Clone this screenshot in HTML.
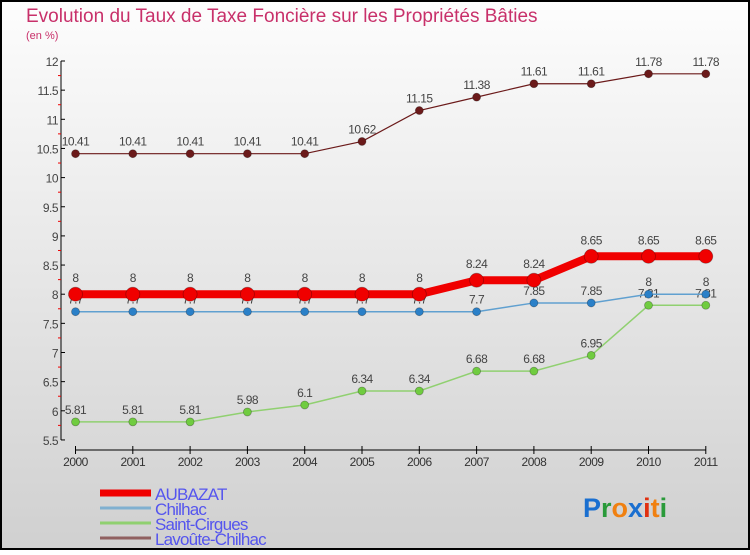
<!DOCTYPE html>
<html><head><meta charset="utf-8"><style>
html,body{margin:0;padding:0;}
body{width:750px;height:550px;overflow:hidden;font-family:"Liberation Sans",sans-serif;}
svg text{font-family:"Liberation Sans",sans-serif;}
</style></head><body>
<svg id="chart" width="750" height="550" xmlns="http://www.w3.org/2000/svg">
<defs><linearGradient id="bg" x1="0" y1="0" x2="0" y2="1"><stop offset="0" stop-color="#fdfdfd"/><stop offset="1" stop-color="#d0d0d0"/></linearGradient></defs>
<rect x="1" y="1" width="748" height="548" fill="url(#bg)" stroke="#000" stroke-width="2"/>
<text x="26" y="22" font-size="19" fill="#c8306a">Evolution du Taux de Taxe Foncière sur les Propriétés Bâties</text>
<text x="26" y="39" font-size="11" fill="#c8306a">(en %)</text>
<g id="axes"></g><g id="series"></g><g id="legend"></g>
<text x="583" y="517" font-size="27" font-weight="bold"><tspan fill="#1a6fd0">P</tspan><tspan fill="#2a9a3a">r</tspan><tspan fill="#f08010">o</tspan><tspan fill="#1a6fd0">x</tspan><tspan fill="#e03010">i</tspan><tspan fill="#f08010">t</tspan><tspan fill="#2a9a3a">i</tspan></text>
</svg>
<script>
const years=["2000","2001","2002","2003","2004","2005","2006","2007","2008","2009","2010","2011"];
const yTicks=[5.5,6,6.5,7,7.5,8,8.5,9,9.5,10,10.5,11,11.5,12];
const aubazat=[8,8,8,8,8,8,8,8.24,8.24,8.65,8.65,8.65];
const chilhac=[7.7,7.7,7.7,7.7,7.7,7.7,7.7,7.7,7.85,7.85,8,8];
const saintCirgues=[5.81,5.81,5.81,5.98,6.1,6.34,6.34,6.68,6.68,6.95,7.81,7.81];
const lavoute=[10.41,10.41,10.41,10.41,10.41,10.62,11.15,11.38,11.61,11.61,11.78,11.78];
const names=["AUBAZAT","Chilhac","Saint-Cirgues","Lavoûte-Chilhac"];
const NS="http://www.w3.org/2000/svg";
function X(i){return 75.5+i*57.3;}
function Y(v){return 61+(12-v)*58.3;}
function mk(tag,attrs,parent,txt){const e=document.createElementNS(NS,tag);for(const k in attrs)e.setAttribute(k,attrs[k]);if(txt!==undefined)e.textContent=txt;parent.appendChild(e);return e;}
const axes=document.getElementById('axes');
let e=mk('line',{x1:61,y1:Y(12),x2:61,y2:Y(5.5),stroke:'#000','stroke-width':1},axes);

yTicks.forEach(t=>{const y=Y(t);mk('line',{x1:61,y1:y,x2:65,y2:y,stroke:'#000'},axes);
 if(t<12){mk('line',{x1:58,y1:Y(t+0.25),x2:61,y2:Y(t+0.25),stroke:'#e00'},axes);}
 const l=mk('text',{x:58,y:y+5,'text-anchor':'end','font-size':12,fill:'#444','letter-spacing':'-0.5'},axes,String(t));
 });
e=mk('line',{x1:X(0),y1:450,x2:X(11),y2:450,stroke:'#000','stroke-width':1},axes);

years.forEach((yr,i)=>{mk('line',{x1:X(i),y1:446,x2:X(i),y2:454,stroke:'#000'},axes);
 const l=mk('text',{x:X(i),y:466,'text-anchor':'middle','font-size':12,fill:'#333','letter-spacing':'-0.5'},axes,yr);
 });
const series=document.getElementById('series');
const defs=[
 {d:lavoute,c:'#6b1a1a',w:1.2,r:4,f:'#6b1a1a',n:'series-lavoute-chilhac'},
 {d:saintCirgues,c:'#90d070',w:1.5,r:4,f:'#70cc40',n:'series-saint-cirgues'},
 {d:chilhac,c:'#60a0d0',w:1.5,r:4,f:'#2a80c8',n:'series-chilhac'},
 {d:aubazat,c:'#f00000',w:8,r:7,f:'#f00000',n:'series-aubazat'}];
defs.forEach(s=>{const g=mk('g',{},series);
 
 mk('polyline',{points:s.d.map((v,i)=>X(i)+','+Y(v)).join(' '),fill:'none',stroke:s.c,'stroke-width':s.w},g);
 s.d.forEach((v,i)=>{const c=mk('circle',{cx:X(i),cy:Y(v),r:s.r,fill:s.f,stroke:'rgba(0,0,0,0.3)','stroke-width':0.8},g);
  
  const t=mk('text',{x:X(i),y:Y(v)-(s.r>5?12:8),'text-anchor':'middle','font-size':12,fill:'#444','letter-spacing':'-0.5'},g,String(v));
  });});
const legend=document.getElementById('legend');
const lc=[['#f00000',7],['#80b0d0',3],['#90d070',3],['#906060',3]];
names.forEach((n,i)=>{const y=492+i*15;const g=mk('g',{},legend);
 
 mk('line',{x1:100,y1:y+1,x2:151,y2:y+1,stroke:lc[i][0],'stroke-width':lc[i][1]},g);
 mk('text',{x:155,y:y+8,'font-size':17,fill:'#5555ee','letter-spacing':'-0.8'},g,n);});
</script>
</body></html>
